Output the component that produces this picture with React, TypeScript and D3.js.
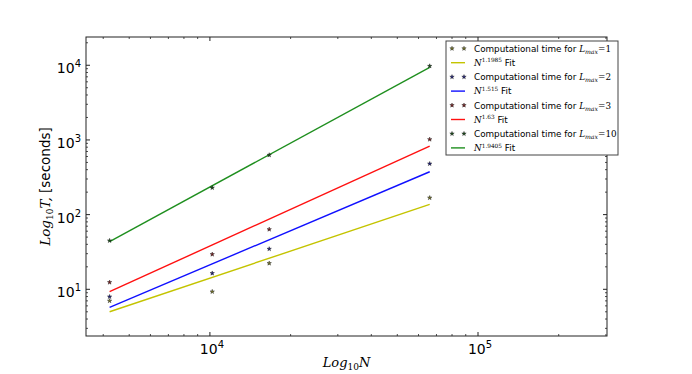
import * as d3 from "d3";

// problem sizes N (x) and measured times (seconds)
const nValues = [4225, 10201, 16641, 66049];
const lmaxLabels = ["1", "2", "3", "10"];
const fitExponents = ["1.1985", "1.515", "1.63", "1.9405"];
const timeL1 = [7.0, 9.3, 22.3, 168];
const timeL2 = [7.96, 16.4, 34.7, 480];
const timeL3 = [12.4, 29.4, 63.5, 1018];
const timeL10 = [44.8, 229, 628, 9750];
// fitted power-law lines, values at first and last N
const fitL1 = [5.0, 137];
const fitL2 = [5.74, 375];
const fitL3 = [9.3, 828];
const fitL10 = [43.5, 9380];

const xTicks = [1e4, 1e5];
const xTickExp = ["4", "5"];
const yTicks = [1e1, 1e2, 1e3, 1e4];
const yTickExp = ["1", "2", "3", "4"];

const lineColors = ["#c4c400", "#1010ff", "#ff1010", "#1f8f1f"];
const starColors = ["#77772a", "#20207a", "#7a2020", "#1f4f1f"];

const W = 692;
const H = 374;
const M = { left: 86, right: 607, top: 37, bottom: 336 };

const sans = "DejaVu Sans, sans-serif";
const serif = "DejaVu Serif, serif";

export default function App() {
  const x = d3.scaleLog().domain([3450, 302800]).range([M.left, M.right]);
  const y = d3.scaleLog().domain([2.37, 23900]).range([M.bottom, M.top]);

  const times = [timeL1, timeL2, timeL3, timeL10];
  const fits = [fitL1, fitL2, fitL3, fitL10];
  const fitN = [nValues[0], nValues[nValues.length - 1]];

  const star = d3.symbol(d3.symbolStar, 6)() as string;
  const line = d3
    .line<[number, number]>()
    .x((d) => x(d[0]))
    .y((d) => y(d[1]));

  const minorX: number[] = [];
  for (let k = 3; k <= 5; k++)
    for (let m = 2; m <= 9; m++) {
      const v = m * 10 ** k;
      if (v > x.domain()[0] && v < x.domain()[1]) minorX.push(v);
    }
  const minorY: number[] = [];
  for (let k = 0; k <= 4; k++)
    for (let m = 2; m <= 9; m++) {
      const v = m * 10 ** k;
      if (v > y.domain()[0] && v < y.domain()[1]) minorY.push(v);
    }

  const tickCol = "#222";
  const legX = 446;
  const legY = 41;
  const rowH = 14.2;

  return (
    <svg
      width={W}
      height={H}
      style={{ position: "absolute", left: 0, top: 0, background: "#fff" }}
    >
      {/* fit lines */}
      {fits.map((f, i) => (
        <path
          key={"fit" + i}
          d={line([
            [fitN[0], f[0]],
            [fitN[1], f[1]],
          ]) as string}
          fill="none"
          stroke={lineColors[i]}
          strokeWidth={1.4}
        />
      ))}
      {/* measured points */}
      {times.map((t, i) =>
        t.map((v, j) => (
          <path
            key={`pt${i}-${j}`}
            d={star}
            transform={`translate(${x(nValues[j])},${y(v)})`}
            fill={starColors[i]}
            stroke="#111"
            strokeWidth={0.4}
          />
        ))
      )}

      {/* frame */}
      <rect
        x={M.left}
        y={M.top}
        width={M.right - M.left}
        height={M.bottom - M.top}
        fill="none"
        stroke={tickCol}
        strokeWidth={1}
      />
      {/* x ticks */}
      {xTicks.map((v) => (
        <g key={"xt" + v}>
          <line x1={x(v)} x2={x(v)} y1={M.bottom} y2={M.bottom - 4} stroke={tickCol} />
          <line x1={x(v)} x2={x(v)} y1={M.top} y2={M.top + 4} stroke={tickCol} />
        </g>
      ))}
      {minorX.map((v) => (
        <g key={"xm" + v}>
          <line x1={x(v)} x2={x(v)} y1={M.bottom} y2={M.bottom - 2} stroke={tickCol} strokeWidth={0.8} />
          <line x1={x(v)} x2={x(v)} y1={M.top} y2={M.top + 2} stroke={tickCol} strokeWidth={0.8} />
        </g>
      ))}
      {yTicks.map((v) => (
        <g key={"yt" + v}>
          <line x1={M.left} x2={M.left + 4} y1={y(v)} y2={y(v)} stroke={tickCol} />
          <line x1={M.right} x2={M.right - 4} y1={y(v)} y2={y(v)} stroke={tickCol} />
        </g>
      ))}
      {minorY.map((v) => (
        <g key={"ym" + v}>
          <line x1={M.left} x2={M.left + 2} y1={y(v)} y2={y(v)} stroke={tickCol} strokeWidth={0.8} />
          <line x1={M.right} x2={M.right - 2} y1={y(v)} y2={y(v)} stroke={tickCol} strokeWidth={0.8} />
        </g>
      ))}

      {/* tick labels */}
      {xTicks.map((v, i) => (
        <text
          key={"xl" + v}
          x={x(v) + 2}
          y={M.bottom + 18}
          textAnchor="middle"
          fontFamily={sans}
          fontSize={14}
          fill="#000"
        >
          10
          <tspan dy={-6} fontSize={10}>
            {xTickExp[i]}
          </tspan>
        </text>
      ))}
      {yTicks.map((v, i) => (
        <text
          key={"yl" + v}
          x={M.left - 5}
          y={y(v) + 8}
          textAnchor="end"
          fontFamily={sans}
          fontSize={14}
          fill="#000"
        >
          10
          <tspan dy={-6} fontSize={10}>
            {yTickExp[i]}
          </tspan>
        </text>
      ))}

      {/* axis labels */}
      <text
        x={(M.left + M.right) / 2}
        y={367}
        textAnchor="middle"
        fontFamily={serif}
        fontStyle="italic"
        fontSize={13}
      >
        Log
        <tspan dy={3} fontSize={9} fontStyle="normal">
          10
        </tspan>
        <tspan dy={-3}>N</tspan>
      </text>
      <text
        transform={`translate(50,${(M.top + M.bottom) / 2}) rotate(-90)`}
        textAnchor="middle"
        fontFamily={serif}
        fontStyle="italic"
        fontSize={13.5}
      >
        Log
        <tspan dy={3} fontSize={9} fontStyle="normal">
          10
        </tspan>
        <tspan dy={-3}>T,</tspan>
        <tspan fontFamily={sans} fontStyle="normal">
          {" [seconds]"}
        </tspan>
      </text>

      {/* legend */}
      <rect
        x={legX}
        y={legY}
        width={172}
        height={114}
        fill="#fff"
        stroke="#444"
        strokeWidth={1}
      />
      {lmaxLabels.map((lab, i) => {
        const y1 = legY + 7.5 + rowH * (2 * i);
        const y2 = y1 + rowH;
        return (
          <g key={"leg" + i}>
            {[452, 464].map((sx) => (
              <path
                key={sx}
                d={star}
                transform={`translate(${sx},${y1})`}
                fill={starColors[i]}
                stroke="#111"
                strokeWidth={0.4}
              />
            ))}
            <text x={474} y={y1 + 3.2} fontFamily={sans} fontSize={8.8}>
              Computational time for{" "}
              <tspan fontFamily={serif} fontStyle="italic">
                L
              </tspan>
              <tspan dy={2} fontFamily={serif} fontStyle="italic" fontSize={6.2}>
                max
              </tspan>
              <tspan dy={-2} fontFamily={serif}>
                {"=" + lab}
              </tspan>
            </text>
            <line
              x1={451}
              x2={465}
              y1={y2}
              y2={y2}
              stroke={lineColors[i]}
              strokeWidth={1.4}
            />
            <text x={474} y={y2 + 3.2} fontFamily={serif} fontSize={8.8}>
              <tspan fontStyle="italic">N</tspan>
              <tspan dy={-3.5} fontSize={5.8}>
                {fitExponents[i]}
              </tspan>
              <tspan dy={3.5} fontFamily={sans}>
                {"  Fit"}
              </tspan>
            </text>
          </g>
        );
      })}
    </svg>
  );
}
